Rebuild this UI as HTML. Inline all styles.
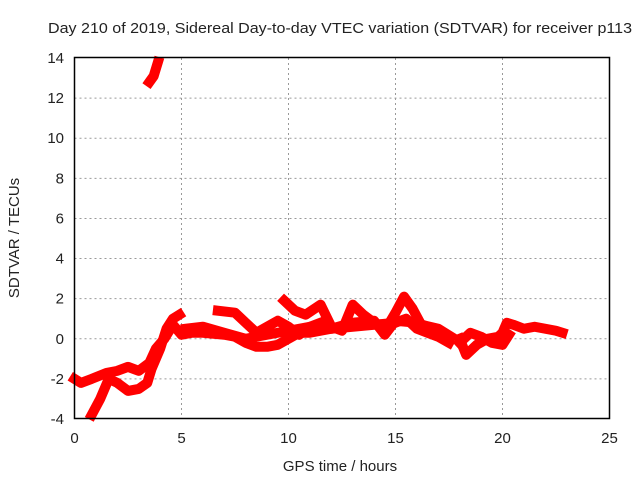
<!DOCTYPE html>
<html><head><meta charset="utf-8"><style>
body{margin:0;background:#fff;}
svg text{font-family:"Liberation Sans",sans-serif;font-size:15px;fill:#222;}
</style></head><body>
<svg id="chart" width="640" height="480">
<rect width="640" height="480" fill="#fff"/>
<g id="grid"></g>
<g id="series"></g>
<rect x="74.5" y="57.5" width="535" height="361" fill="none" stroke="#000" stroke-width="1.5"/>
<g id="ticks"></g>
<text x="340" y="33" text-anchor="middle" textLength="584" lengthAdjust="spacingAndGlyphs">Day 210 of 2019, Sidereal Day-to-day VTEC variation (SDTVAR) for receiver p113</text>
<text x="340" y="471" text-anchor="middle">GPS time / hours</text>
<text x="0" y="0" text-anchor="middle" transform="translate(19,238) rotate(-90)">SDTVAR / TECUs</text>
</svg>
<script>
const xTicks=[0,5,10,15,20,25];
const yTicks=[-4,-2,0,2,4,6,8,10,12,14];
const trackA=[[0,-2.0],[0.3,-2.2],[0.8,-2.0],[1.5,-1.7],[2.0,-1.6],[2.5,-1.4],[3.0,-1.6],[3.5,-1.2],[3.8,-0.5],[4.2,0],[4.6,0.7],[5.0,0.2],[5.5,0.3],[6,0.3],[7,0.2],[7.5,0.1],[8,-0.2],[8.5,-0.4],[9,-0.4],[9.5,-0.3],[10,0],[10.5,0.3],[11,0.3],[12,0.5],[13,0.6],[14,0.7],[15,0.8],[15.5,1.0],[16,0.5],[16.5,0.3],[17,0.1],[17.5,-0.2]];
const trackB=[[0.8,-3.8],[1.2,-3.0],[1.6,-2.0],[2.0,-2.2],[2.5,-2.6],[3.0,-2.5],[3.4,-2.2],[3.6,-1.5],[4.0,-0.5],[4.3,0.5],[4.6,1.0],[4.9,1.2]];
const trackC=[[6.7,1.4],[7.5,1.3],[8,0.8],[8.5,0.3],[9,0.6],[9.5,0.9],[10,0.6],[10.5,0.2],[11,0.6],[11.5,0.8]];
const trackD=[[9.8,1.9],[10.3,1.4],[10.8,1.2],[11.5,1.7],[12,0.6],[12.5,0.4],[13,1.7],[13.5,1.2],[14,0.8],[14.5,0.4],[15.0,1.3],[15.4,2.1],[15.8,1.5],[16.2,0.7],[17,0.5],[17.6,0.1]];
const trackE=[[5.2,0.5],[6,0.6],[7,0.3],[8,0.0],[9,0.2],[10,0.4],[11,0.6],[12,0.5],[13,0.8],[14,0.9],[14.5,0.2],[15,0.9],[16,0.8],[17,0.4]];
const trackF=[[18,0],[18.3,-0.8],[18.8,-0.3],[19.3,0.0],[19.8,0.1],[20.0,0.3],[20.2,0.8],[20.5,0.7],[21,0.5],[21.5,0.6],[22,0.5],[22.5,0.4],[22.8,0.3]];
const trackG=[[18,-0.2],[18.5,0.3],[19,0.1],[19.5,-0.2],[20,-0.3],[20.3,0.2]];
const trackH=[[3.5,12.8],[3.7,13.1],[3.9,13.8]];
const tracks=[trackA,trackB,trackC,trackD,trackE,trackF,trackG,trackH];
const NS="http://www.w3.org/2000/svg";
const X0=74.5,X1=609.5,Y0=419,Y1=58;
function sx(v){return X0+(v-0)/25*(X1-X0);}
function sy(v){return Y0-(v+4)/18*(Y0-Y1);}
const grid=document.getElementById('grid'),tk=document.getElementById('ticks'),sg=document.getElementById('series');
function mk(tag,at,par){const e=document.createElementNS(NS,tag);for(const k in at)e.setAttribute(k,at[k]);par.appendChild(e);return e;}
xTicks.forEach(t=>{const x=sx(t);
 if(t>0&&t<25){const g=mk('line',{x1:x,x2:x,y1:Y1,y2:Y0,stroke:'#999','stroke-dasharray':'2,3'},grid);
 
 }
 const l=mk('text',{x:x,y:443,'text-anchor':'middle'},tk);l.textContent=t;
 
 });
yTicks.forEach(t=>{const y=sy(t);
 if(t>-4&&t<14){const g=mk('line',{x1:X0,x2:X1,y1:y,y2:y,stroke:'#999','stroke-dasharray':'2,3'},grid);
 
 }
 const l=mk('text',{x:64,y:y+5,'text-anchor':'end'},tk);l.textContent=t;
 
 });
tracks.forEach(tr=>{const p=mk('polyline',{points:tr.map(d=>sx(d[0])+','+sy(d[1])).join(' '),fill:'none',stroke:'#f00','stroke-width':10,'stroke-linejoin':'round','stroke-linecap':'square'},sg);
 
 });
</script>
</body></html>
